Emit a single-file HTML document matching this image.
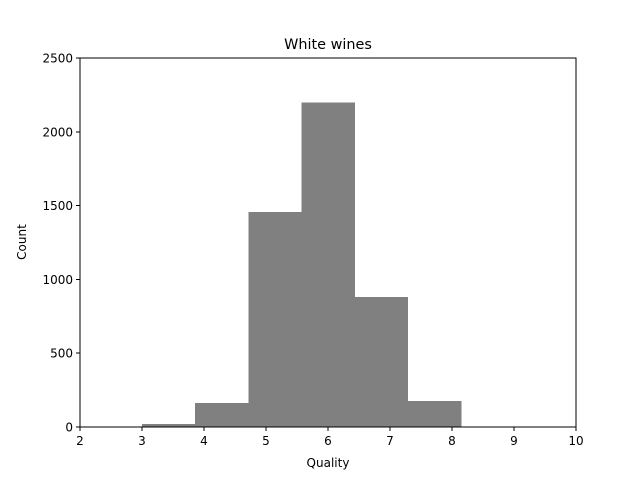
<!DOCTYPE html>
<html><head><meta charset="utf-8"><style>
body{margin:0;background:#fff;}
svg text{font-family:"DejaVu Sans","Liberation Sans",sans-serif;}
</style></head><body>
<svg id="chart" width="640" height="480">
<rect width="640" height="480" fill="#fff"/>
<g id="bars" shape-rendering="crispEdges"></g>
<rect x="80" y="58" width="496" height="369" fill="none" stroke="#000" stroke-width="1" shape-rendering="crispEdges"/>
<g id="axes" shape-rendering="crispEdges"></g>
<text x="328" y="49" text-anchor="middle" font-size="14.4">White wines</text>
<text x="328" y="467" text-anchor="middle" font-size="12">Quality</text>
<text x="26" y="242" text-anchor="middle" font-size="12" transform="rotate(-90 26 242)">Count</text>
</svg>
<script>
const binEdges=[3,3.857,4.714,5.571,6.429,7.286,8.143,9];
const counts=[20,163,1457,2198,880,175,5];
const xTicks=[2,3,4,5,6,7,8,9,10];
const yTicks=[0,500,1000,1500,2000,2500];
const L=80,R=576,T=58,B=427,xMin=2,xMax=10,yMin=0,yMax=2500;
const xs=v=>L+(v-xMin)/(xMax-xMin)*(R-L);
const ys=v=>B-(v-yMin)/(yMax-yMin)*(B-T);
const NS="http://www.w3.org/2000/svg";
const bars=document.getElementById('bars'),axes=document.getElementById('axes');
counts.forEach((c,i)=>{
 const r=document.createElementNS(NS,'rect');
 const x0=xs(binEdges[i]),x1=xs(binEdges[i+1]);
 r.setAttribute('x',x0);r.setAttribute('width',x1-x0+0.5);
 r.setAttribute('y',ys(c));r.setAttribute('height',B-ys(c));
 r.setAttribute('fill','#808080');
 
 
 bars.appendChild(r);
});
xTicks.forEach(t=>{
 const x=xs(t);
 const l=document.createElementNS(NS,'line');
 l.setAttribute('x1',x);l.setAttribute('x2',x);l.setAttribute('y1',B);l.setAttribute('y2',B+4);l.setAttribute('stroke','#000');
 
 
 axes.appendChild(l);
 const tx=document.createElementNS(NS,'text');
 tx.setAttribute('x',x);tx.setAttribute('y',B+18);tx.setAttribute('text-anchor','middle');tx.setAttribute('font-size','12');
 tx.textContent=t;
 
 
 axes.appendChild(tx);
});
yTicks.forEach(t=>{
 const y=ys(t);
 const l=document.createElementNS(NS,'line');
 l.setAttribute('x1',L-4);l.setAttribute('x2',L);l.setAttribute('y1',y);l.setAttribute('y2',y);l.setAttribute('stroke','#000');
 
 
 axes.appendChild(l);
 const tx=document.createElementNS(NS,'text');
 tx.setAttribute('x',L-7);tx.setAttribute('y',y+4.5);tx.setAttribute('text-anchor','end');tx.setAttribute('font-size','12');
 tx.textContent=t;
 
 
 axes.appendChild(tx);
});
</script>
</body></html>
